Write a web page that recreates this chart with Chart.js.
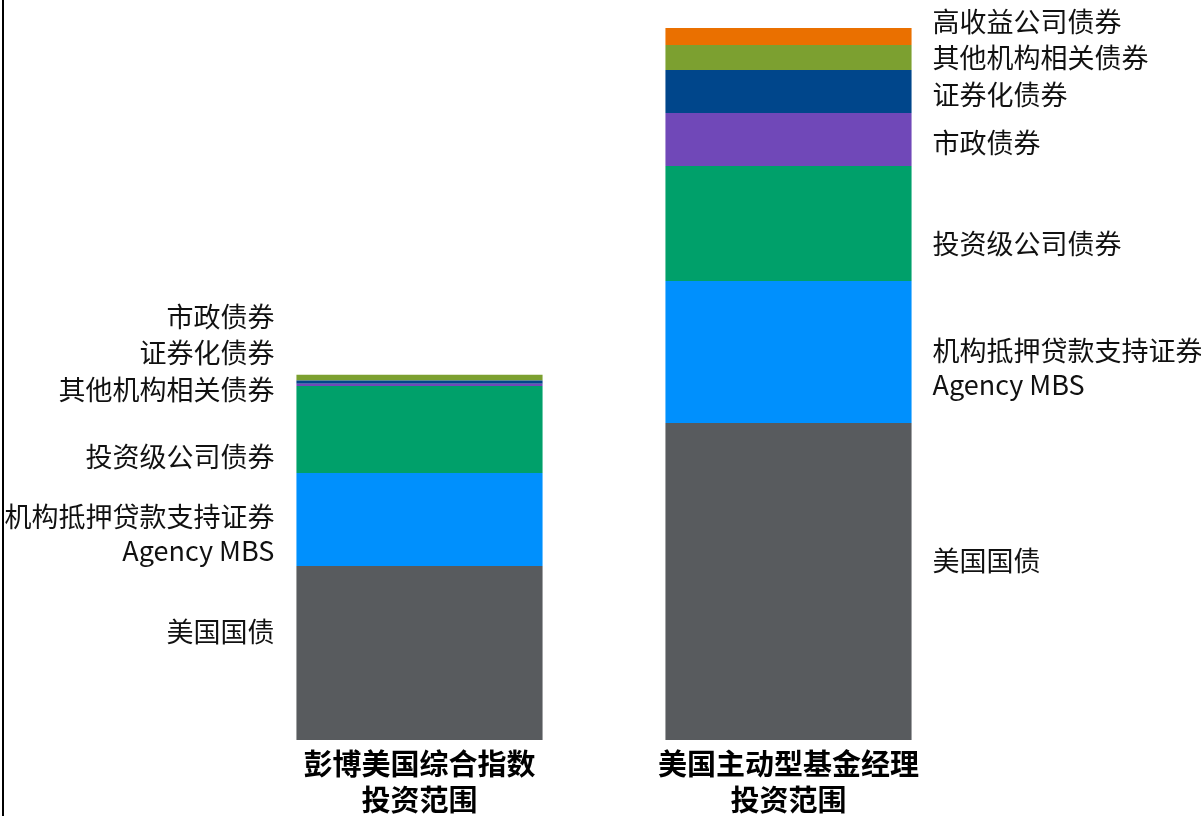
<!DOCTYPE html>
<html>
<head>
<meta charset="utf-8">
<script src="https://cdn.jsdelivr.net/npm/chart.js@4"></script>
<style>
    html, body { margin: 0; padding: 0; background: #fff; overflow: hidden; }
    #wrap { width: 1201px; height: 816px; }
</style>
</head>
<body>
<div id="wrap"><canvas id="bondChart" width="1201" height="816"></canvas></div>
<script>
// Categories (two stacked bars)
const categories = [
    ['彭博美国综合指数', '投资范围'],
    ['美国主动型基金经理', '投资范围']
];

// Segment names, bottom to top
const seriesNames = [
    ['美国国债'],
    ['机构抵押贷款支持证券', 'Agency MBS'],
    ['投资级公司债券'],
    ['市政债券'],
    ['证券化债券'],
    ['其他机构相关债券'],
    ['高收益公司债券']
];

// Relative size of each segment
const treasuries = [17.4, 31.7];
const agencyMbs = [9.3, 14.2];
const igCorporate = [8.7, 11.5];
const municipal = [0.23, 5.3];
const securitized = [0.33, 4.3];
const otherAgency = [0.57, 2.5];
const highYield = [0, 1.7];

const seriesValues = [treasuries, agencyMbs, igCorporate, municipal, securitized, otherAgency, highYield];
const seriesColors = ['#585b5e', '#0090fd', '#00a06a', '#7048b8', '#00468b', '#7ca030', '#ea7000'];

// label nudges (px) from segment centre, per bar, per series
const labelNudge = [
    [-21, 14, 27, -68, -29, 12, 0],
    [-21, 16, 20, 3, 3, 0, -15]
];

const FONT = '"Noto Sans CJK SC", "Noto Sans", sans-serif';

// Draws the left frame line and the segment labels next to each bar
const labelPlugin = {
    id: 'segmentLabels',
    afterDraw(chart) {
        const ctx = chart.ctx;
        ctx.save();
        ctx.fillStyle = '#000';
        ctx.fillRect(2, 0, 2, chart.height);

        ctx.font = '27px ' + FONT;
        ctx.fillStyle = '#111';
        ctx.textBaseline = 'middle';
        const lineH = 34;
        chart.data.datasets.forEach((ds, di) => {
            const meta = chart.getDatasetMeta(di);
            meta.data.forEach((bar, bi) => {
                if (!ds.data[bi]) return;
                const props = bar.getProps(['x', 'y', 'base', 'width']);
                const cy = (props.y + props.base) / 2 + labelNudge[bi][di];
                const lines = seriesNames[di];
                const top = cy - (lines.length - 1) * lineH / 2;
                let x;
                if (bi === 0) {
                    ctx.textAlign = 'right';
                    x = props.x - props.width / 2 - 22;
                } else {
                    ctx.textAlign = 'left';
                    x = props.x + props.width / 2 + 21;
                }
                lines.forEach((t, li) => ctx.fillText(t, x, top + li * lineH));
            });
        });
        ctx.restore();
    }
};

const ctx = document.getElementById('bondChart');
new Chart(ctx, {
    type: 'bar',
    data: {
        labels: categories,
        datasets: seriesValues.map((vals, i) => ({
            label: seriesNames[i].join(' '),
            data: vals,
            backgroundColor: seriesColors[i],
            borderWidth: 0,
            categoryPercentage: 1,
            barPercentage: 0.667
        }))
    },
    options: {
        responsive: false,
        animation: false,
        layout: {
            padding: { left: 235, right: 228, top: 10, bottom: 0 }
        },
        plugins: {
            legend: { display: false },
            tooltip: { enabled: false }
        },
        scales: {
            x: {
                stacked: true,
                grid: { display: false },
                border: { display: false },
                afterFit(scale) { scale.height = 76; },
                ticks: {
                    color: '#000',
                    padding: -2,
                    maxRotation: 0,
                    autoSkip: false,
                    font: { family: FONT, size: 29, weight: 'bold', lineHeight: 1.24 }
                }
            },
            y: {
                stacked: true,
                display: false,
                min: 0,
                max: 73
            }
        }
    },
    plugins: [labelPlugin]
});
</script>
</body>
</html>
